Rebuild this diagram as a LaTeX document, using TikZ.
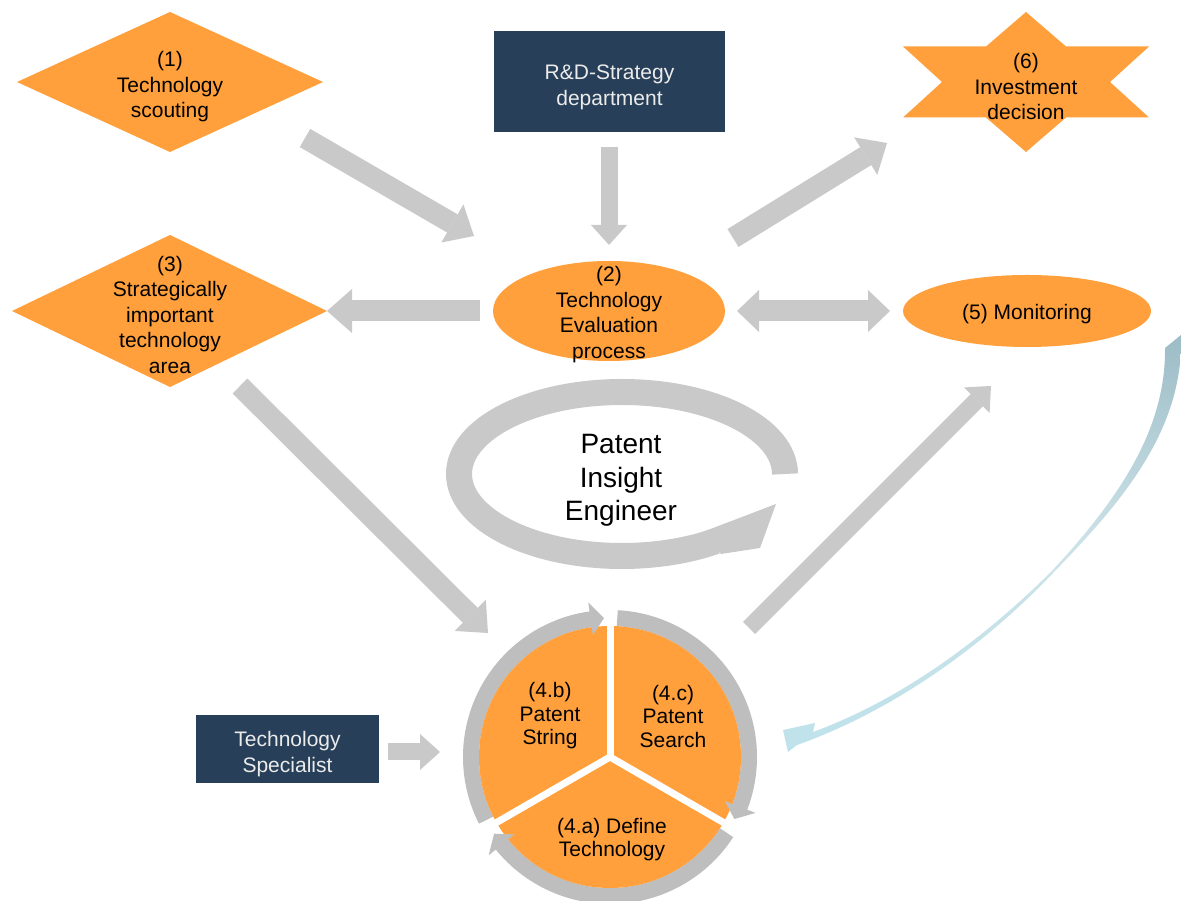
\documentclass[tikz,border=0pt]{standalone}
\usepackage{fontspec}
\setmainfont{Liberation Sans}
\usetikzlibrary{arrows.meta,bending,calc}
\definecolor{org}{RGB}{255,160,60}
\definecolor{navy}{RGB}{39,63,88}
\definecolor{arrgray}{RGB}{201,201,201}
\definecolor{ringgray}{RGB}{190,190,190}
\definecolor{boxtxt}{RGB}{235,235,235}
\definecolor{bluetop}{RGB}{156,188,198}
\definecolor{bluemid}{RGB}{205,226,232}
\definecolor{bluebot}{RGB}{190,226,235}
\begin{document}
\begin{tikzpicture}[x=1pt,y=1pt,
  txt/.style={align=center,inner sep=0pt,text=black,font=\fontsize{21}{25.5}\selectfont},
  ctxt/.style={align=center,inner sep=0pt,text=black,font=\fontsize{21}{23.5}\selectfont},
  navytxt/.style={align=center,inner sep=0pt,text=boxtxt,font=\fontsize{21}{25.5}\selectfont},
  bigarr/.style={draw=arrgray,line width=21pt,-{Triangle[length=25pt,width=44pt,line width=0pt]}},
  smallarr/.style={draw=arrgray,line width=17pt,-{Triangle[length=20pt,width=36pt,line width=0pt]}},
  dblarr/.style={draw=arrgray,line width=21pt,{Triangle[length=22pt,width=42pt,line width=0pt]}-{Triangle[length=22pt,width=42pt,line width=0pt]}},
  ringband/.style={draw=ringgray,line width=16pt},
  ringhead/.style={fill=ringgray},
]
\useasboundingbox (0,0) rectangle (1181,900);
\fill[white] (0,0) rectangle (1181,900);

% ---- shapes ----
% (1) diamond
\fill[org] (170,888) -- (323,818) -- (170,748) -- (17,818) -- cycle;
\node[txt] (d1) at (170,813) {(1)\\Technology\\scouting};
% R&D box
\fill[navy] (494,768) rectangle (725,869);
\node[navytxt] (rd) at (609.5,812.5) {R\&D-Strategy\\department};
% (6) star
\fill[org,shift={(1026,818)}] (0,70) -- (40,35.5) -- (123,35.5) -- (84,0) -- (123,-35.5) -- (40,-35.5)
  -- (0,-70) -- (-40,-35.5) -- (-123,-35.5) -- (-84,0) -- (-123,35.5) -- (-40,35.5) -- cycle;
\node[txt] (s6) at (1026,813) {(6)\\Investment\\decision};
% (3) diamond
\fill[org] (170,665) -- (327,589) -- (170,513) -- (12,589) -- cycle;
\node[txt] (d3) at (170,585.5) {(3)\\Strategically\\important\\technology\\area};
% (2) ellipse
\fill[org] (609,589) ellipse[x radius=116,y radius=50];
\node[txt] (e2) at (609,585.5) {(2)\\Technology\\Evaluation\\process};
% (5) ellipse
\fill[org] (1027,589) ellipse[x radius=124,y radius=36];
\node[txt] (e5) at (1027,586) {(5) Monitoring};
% Technology Specialist
\fill[navy] (196,117) rectangle (379,185);
\node[navytxt] (ts) at (287.5,146) {Technology\\Specialist};

% ---- Patent Insight Engineer cycle ----
\draw[draw=arrgray,line width=26pt] (785,426) arc[start angle=0,end angle=305,x radius=163,y radius=82];
\fill[arrgray] (700,367) -- (776,396) -- (760,352) -- (721,346) -- cycle;
\node[align=center,inner sep=0pt,font=\fontsize{28}{33.5}\selectfont] (pie) at (621,419.5) {Patent\\Insight\\Engineer};

% ---- bottom circle ----
\coordinate (cc) at (610,143);
\draw[ringband] ([shift={(207:139)}]cc) arc[start angle=207,end angle=97.5,radius=139];
\draw[ringband] ([shift={(87:139)}]cc) arc[start angle=87,end angle=-21.5,radius=139];
\draw[ringband] ([shift={(-33:139)}]cc) arc[start angle=-33,end angle=-141.5,radius=139];
\fill[org] (cc) circle[radius=131];
\draw[white,line width=7pt] (cc) -- ([shift={(90:132)}]cc);
\draw[white,line width=7pt] (cc) -- ([shift={(210:132)}]cc);
\draw[white,line width=7pt] (cc) -- ([shift={(330:132)}]cc);
\fill[ringhead] ([shift={(98:123)}]cc) -- ([shift={(92.5:139)}]cc) -- ([shift={(98:156)}]cc) -- cycle;
\fill[ringhead] ([shift={(-21:123)}]cc) -- ([shift={(-26.5:139)}]cc) -- ([shift={(-21:156)}]cc) -- cycle;
\fill[ringhead] ([shift={(-141:123)}]cc) -- ([shift={(-146.5:139)}]cc) -- ([shift={(-141:156)}]cc) -- cycle;
\node[ctxt] (c4b) at (550,184) {(4.b)\\Patent\\String};
\node[ctxt] (c4c) at (673,184) {(4.c)\\Patent\\Search};
\node[ctxt] (c4a) at (612,60.5) {(4.a) Define\\Technology};

% ---- block arrows ----
\coordinate (a1s) at (305,762); \coordinate (a1e) at (474,664);
\coordinate (a2s) at (609,753); \coordinate (a2e) at (609,655);
\coordinate (a3s) at (733,662); \coordinate (a3e) at (887,757);
\coordinate (a4s) at (480,589); \coordinate (a4e) at (327,589);
\coordinate (a5s) at (737,589); \coordinate (a5e) at (890,589);
\coordinate (a6s) at (240,514); \coordinate (a6e) at (488,267);
\coordinate (a7s) at (749,272); \coordinate (a7e) at (991,514);
\coordinate (a8s) at (388,148); \coordinate (a8e) at (440,148);
\draw[bigarr] (a1s) -- (a1e);
\draw[smallarr] (a2s) -- (a2e);
\draw[bigarr] (a3s) -- (a3e);
\draw[bigarr] (a4s) -- (a4e);
\draw[dblarr] (a5s) -- (a5e);
\draw[bigarr] (a6s) -- (a6e);
\draw[smallarr] (a7s) -- (a7e);
\draw[smallarr] (a8s) -- (a8e);

% ---- curved blue feedback arrow ----
\shade[top color=bluetop,bottom color=bluebot,middle color=bluemid]
  (1165,552) .. controls (1166,470) and (1118,400) .. (1051,328)
  .. controls (980,258) and (900,200) .. (813,168)
  -- (815,177) -- (783,170) -- (788,148) -- (797,155)
  .. controls (890,188) and (982,252) .. (1053,327)
  .. controls (1122,398) and (1184,470) .. (1181,565) -- cycle;
\end{tikzpicture}
\end{document}
